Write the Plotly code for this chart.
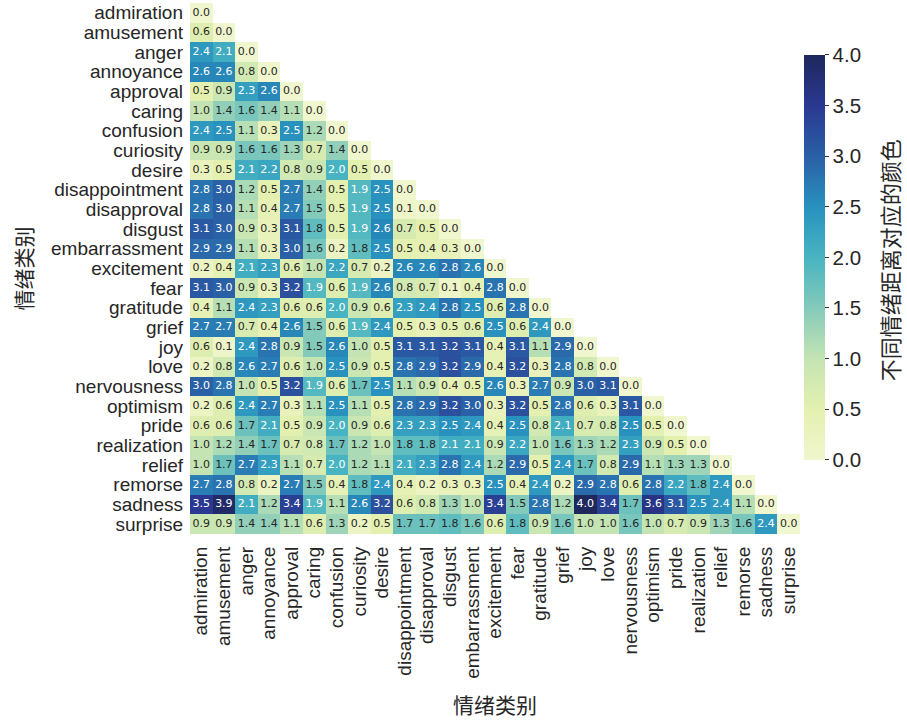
import plotly.graph_objects as go

# Emotion categories (row and column order of the matrix)
emotions = [
    "admiration", "amusement", "anger", "annoyance", "approval", "caring",
    "confusion", "curiosity", "desire", "disappointment", "disapproval",
    "disgust", "embarrassment", "excitement", "fear", "gratitude", "grief",
    "joy", "love", "nervousness", "optimism", "pride", "realization",
    "relief", "remorse", "sadness", "surprise",
]

# Lower-triangular pairwise emotion distances, one list per row
distance_rows = [
    [0.0],
    [0.6, 0.0],
    [2.4, 2.1, 0.0],
    [2.6, 2.6, 0.8, 0.0],
    [0.5, 0.9, 2.3, 2.6, 0.0],
    [1.0, 1.4, 1.6, 1.4, 1.1, 0.0],
    [2.4, 2.5, 1.1, 0.3, 2.5, 1.2, 0.0],
    [0.9, 0.9, 1.6, 1.6, 1.3, 0.7, 1.4, 0.0],
    [0.3, 0.5, 2.1, 2.2, 0.8, 0.9, 2.0, 0.5, 0.0],
    [2.8, 3.0, 1.2, 0.5, 2.7, 1.4, 0.5, 1.9, 2.5, 0.0],
    [2.8, 3.0, 1.1, 0.4, 2.7, 1.5, 0.5, 1.9, 2.5, 0.1, 0.0],
    [3.1, 3.0, 0.9, 0.3, 3.1, 1.8, 0.5, 1.9, 2.6, 0.7, 0.5, 0.0],
    [2.9, 2.9, 1.1, 0.3, 3.0, 1.6, 0.2, 1.8, 2.5, 0.5, 0.4, 0.3, 0.0],
    [0.2, 0.4, 2.1, 2.3, 0.6, 1.0, 2.2, 0.7, 0.2, 2.6, 2.6, 2.8, 2.6, 0.0],
    [3.1, 3.0, 0.9, 0.3, 3.2, 1.9, 0.6, 1.9, 2.6, 0.8, 0.7, 0.1, 0.4, 2.8, 0.0],
    [0.4, 1.1, 2.4, 2.3, 0.6, 0.6, 2.0, 0.9, 0.6, 2.3, 2.4, 2.8, 2.5, 0.6, 2.8, 0.0],
    [2.7, 2.7, 0.7, 0.4, 2.6, 1.5, 0.6, 1.9, 2.4, 0.5, 0.3, 0.5, 0.6, 2.5, 0.6, 2.4, 0.0],
    [0.6, 0.1, 2.4, 2.8, 0.9, 1.5, 2.6, 1.0, 0.5, 3.1, 3.1, 3.2, 3.1, 0.4, 3.1, 1.1, 2.9, 0.0],
    [0.2, 0.8, 2.6, 2.7, 0.6, 1.0, 2.5, 0.9, 0.5, 2.8, 2.9, 3.2, 2.9, 0.4, 3.2, 0.3, 2.8, 0.8, 0.0],
    [3.0, 2.8, 1.0, 0.5, 3.2, 1.9, 0.6, 1.7, 2.5, 1.1, 0.9, 0.4, 0.5, 2.6, 0.3, 2.7, 0.9, 3.0, 3.1, 0.0],
    [0.2, 0.6, 2.4, 2.7, 0.3, 1.1, 2.5, 1.1, 0.5, 2.8, 2.9, 3.2, 3.0, 0.3, 3.2, 0.5, 2.8, 0.6, 0.3, 3.1, 0.0],
    [0.6, 0.6, 1.7, 2.1, 0.5, 0.9, 2.0, 0.9, 0.6, 2.3, 2.3, 2.5, 2.4, 0.4, 2.5, 0.8, 2.1, 0.7, 0.8, 2.5, 0.5, 0.0],
    [1.0, 1.2, 1.4, 1.7, 0.7, 0.8, 1.7, 1.2, 1.0, 1.8, 1.8, 2.1, 2.1, 0.9, 2.2, 1.0, 1.6, 1.3, 1.2, 2.3, 0.9, 0.5, 0.0],
    [1.0, 1.7, 2.7, 2.3, 1.1, 0.7, 2.0, 1.2, 1.1, 2.1, 2.3, 2.8, 2.4, 1.2, 2.9, 0.5, 2.4, 1.7, 0.8, 2.9, 1.1, 1.3, 1.3, 0.0],
    [2.7, 2.8, 0.8, 0.2, 2.7, 1.5, 0.4, 1.8, 2.4, 0.4, 0.2, 0.3, 0.3, 2.5, 0.4, 2.4, 0.2, 2.9, 2.8, 0.6, 2.8, 2.2, 1.8, 2.4, 0.0],
    [3.5, 3.9, 2.1, 1.2, 3.4, 1.9, 1.1, 2.6, 3.2, 0.6, 0.8, 1.3, 1.0, 3.4, 1.5, 2.8, 1.2, 4.0, 3.4, 1.7, 3.6, 3.1, 2.5, 2.4, 1.1, 0.0],
    [0.9, 0.9, 1.4, 1.4, 1.1, 0.6, 1.3, 0.2, 0.5, 1.7, 1.7, 1.8, 1.6, 0.6, 1.8, 0.9, 1.6, 1.0, 1.0, 1.6, 1.0, 0.7, 0.9, 1.3, 1.6, 2.4, 0.0],
]

colorbar_ticks = [0.0, 0.5, 1.0, 1.5, 2.0, 2.5, 3.0, 3.5, 4.0]

# Yellow-green-blue sequential scale, slightly softened
ylgnbu = [
    [0.000, "rgb(240,246,206)"],
    [0.125, "rgb(228,240,175)"],
    [0.250, "rgb(196,228,180)"],
    [0.375, "rgb(132,202,186)"],
    [0.500, "rgb(72,180,194)"],
    [0.625, "rgb(40,145,190)"],
    [0.750, "rgb(42,96,166)"],
    [0.875, "rgb(42,56,145)"],
    [1.000, "rgb(30,40,92)"],
]

n = len(emotions)
z = [[row[j] if j < len(row) else None for j in range(n)] for row in distance_rows]

fig = go.Figure()
fig.add_trace(go.Heatmap(
    x=emotions, y=emotions, z=z,
    zmin=0, zmax=4, colorscale=ylgnbu,
    hoverongaps=False,
    colorbar=dict(
        x=1.0065, xanchor="left", xpad=0,
        y=0.521, yanchor="middle", len=0.763, lenmode="fraction", ypad=0,
        thickness=21, outlinewidth=0,
        tickvals=colorbar_ticks,
        ticktext=[f"{t:.1f}" for t in colorbar_ticks],
        ticks="outside", ticklen=4, tickcolor="#333333",
        tickfont=dict(family="Liberation Sans, Arial", size=20.5, color="#262626"),
    ),
))

# Cell value labels: dark text on light cells, white on dark cells
dark_x, dark_y, dark_t = [], [], []
light_x, light_y, light_t = [], [], []
for i, row in enumerate(distance_rows):
    for j, v in enumerate(row):
        if v >= 1.85:
            light_x.append(emotions[j]); light_y.append(emotions[i]); light_t.append(f"{v:.1f}")
        else:
            dark_x.append(emotions[j]); dark_y.append(emotions[i]); dark_t.append(f"{v:.1f}")

for xs, ys, ts, col in [(dark_x, dark_y, dark_t, "#262626"), (light_x, light_y, light_t, "#ffffff")]:
    fig.add_trace(go.Scatter(
        x=xs, y=ys, text=ts, mode="text", hoverinfo="skip", showlegend=False,
        textfont=dict(family="DejaVu Sans", size=11, color=col),
    ))

label_font = dict(family="Liberation Sans, Arial", size=19, color="#262626")
title_font = dict(family="Noto Sans CJK SC", size=21, color="#262626")

# Colorbar caption, written vertically to the right of the colour scale
fig.add_annotation(
    text="不同情绪距离对应的颜色", textangle=-90,
    xref="paper", yref="paper", x=1.1465, y=0.516,
    xanchor="center", yanchor="middle", showarrow=False,
    font=dict(family="Noto Sans CJK SC", size=22, color="#262626"),
)

fig.update_layout(
    width=907, height=722,
    margin=dict(l=190, r=107, t=3, b=188),
    paper_bgcolor="white", plot_bgcolor="white",
    showlegend=False,
    xaxis=dict(
        type="category", categoryorder="array", categoryarray=emotions,
        range=[-0.5, n - 0.5],
        tickmode="array", tickvals=emotions, ticktext=emotions,
        tickangle=-90, showgrid=False, zeroline=False, showline=False,
        ticks="", ticklabelstandoff=8, tickfont=label_font,
        title=dict(text="情绪类别", standoff=20, font=title_font),
        automargin=False,
    ),
    yaxis=dict(
        type="category", categoryorder="array", categoryarray=emotions,
        range=[n - 0.5, -0.5],
        tickmode="array", tickvals=emotions, ticktext=emotions,
        showgrid=False, zeroline=False, showline=False,
        ticks="", ticklabelstandoff=6, tickfont=label_font,
        title=dict(text="情绪类别", standoff=12, font=title_font),
        automargin=False,
    ),
)

fig.write_html("out.html")
